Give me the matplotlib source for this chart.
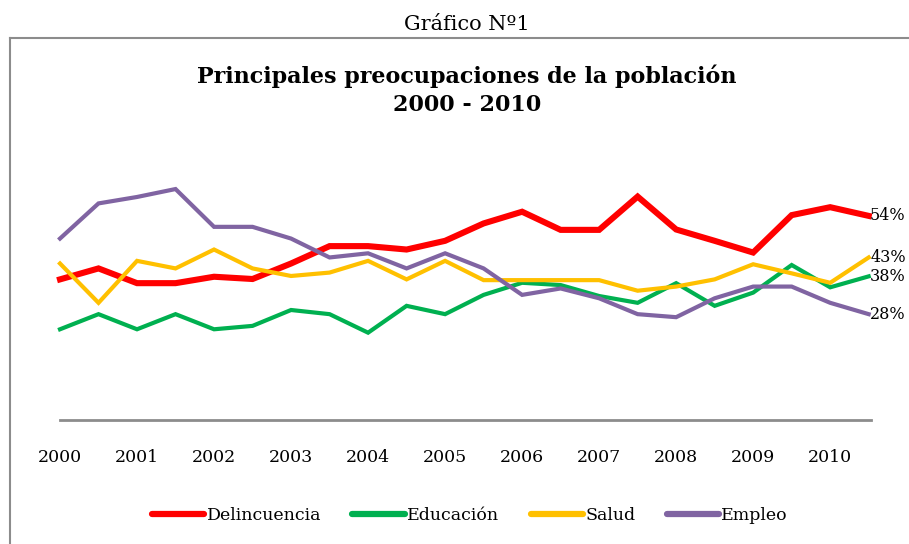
import matplotlib.pyplot as plt
from matplotlib.lines import Line2D
import numpy as np

# Datos (semestrales, 2000 - 2010)
periodos = np.arange(2000, 2011, 0.5)
delincuencia = [37.2, 40.1, 36.2, 36.2, 37.9, 37.3, 41.4, 46.0, 46.0, 45.1, 47.4,
                52.0, 55.1, 50.3, 50.3, 59.1, 50.4, 47.4, 44.3, 54.2, 56.3, 54.0]
educacion = [24.0, 28.0, 24.0, 28.0, 24.0, 24.9, 29.1, 28.0, 23.1, 30.2, 28.0,
             33.1, 36.3, 35.7, 32.8, 31.0, 36.2, 30.2, 33.7, 41.0, 35.1, 38.0]
salud = [41.4, 31.0, 42.1, 40.1, 45.1, 40.1, 38.1, 39.0, 42.1, 37.2, 42.1,
         37.0, 37.0, 37.0, 37.0, 34.2, 35.3, 37.2, 41.2, 38.8, 36.3, 43.0]
empleo = [48.0, 57.3, 59.0, 61.1, 51.1, 51.1, 48.0, 43.0, 44.1, 40.1, 44.1,
          40.1, 33.1, 34.8, 32.2, 28.0, 27.2, 32.2, 35.3, 35.3, 31.0, 28.0]
anios = list(range(2000, 2011))

series = [
    ('Delincuencia', delincuencia, '#FF0000', 4.4),
    ('Educación', educacion, '#00B050', 3.0),
    ('Salud', salud, '#FFC000', 3.0),
    ('Empleo', empleo, '#8064A2', 3.0),
]

plt.rcParams['font.family'] = ['DejaVu Serif']

W, H = 909, 544
fig = plt.figure(figsize=(W / 100, H / 100), dpi=100)

# Marco exterior (recortado a la derecha y abajo)
fig.add_artist(Line2D([10 / W, 10 / W], [0, 1 - 38 / H], color='#8c8c8c', lw=1.5))
fig.add_artist(Line2D([10 / W, 1], [1 - 38 / H, 1 - 38 / H], color='#8c8c8c', lw=1.5))

fig.text(467 / W, 1 - 25 / H, 'Gráfico Nº1', ha='center', va='center', fontsize=15)
fig.text(467 / W, 1 - 90 / H, 'Principales preocupaciones de la población\n2000 - 2010',
         ha='center', va='center', fontsize=16, fontweight='bold', linespacing=1.35)

ax = fig.add_axes([60 / W, 124 / H, 811 / W, 264.6 / H])

handles = []
for nombre, valores, color, ancho in series:
    linea, = ax.plot(periodos, valores, color=color, lw=ancho, label=nombre,
                     solid_joinstyle='miter', clip_on=False)
    handles.append(linea)
    # etiqueta del último valor
    ax.annotate(f'{valores[-1]:.0f}%', xy=(periodos[-1], valores[-1]),
                xytext=(1, 0), textcoords='offset points', va='center', ha='left',
                fontsize=11.5, annotation_clip=False)

ax.set_xlim(2000, 2010.53)
ax.set_ylim(0, 70)
ax.set_xticks(anios)
ax.set_xticklabels([str(a) for a in anios], fontsize=12.5)
ax.tick_params(axis='x', length=0, pad=21)
ax.set_yticks([])
for lado in ['top', 'right', 'left']:
    ax.spines[lado].set_visible(False)
ax.spines['bottom'].set_color('#8c8c8c')
ax.spines['bottom'].set_linewidth(2)

leg = fig.legend(handles=handles, loc='center', bbox_to_anchor=(470 / W, 28 / H),
                 ncol=4, frameon=False, fontsize=12.5, handlelength=3.0,
                 handletextpad=0.15, columnspacing=1.8)
for h in leg.get_lines():
    h.set_linewidth(4.5)
    h.set_solid_capstyle('round')

fig.savefig('out.png', dpi=100)
